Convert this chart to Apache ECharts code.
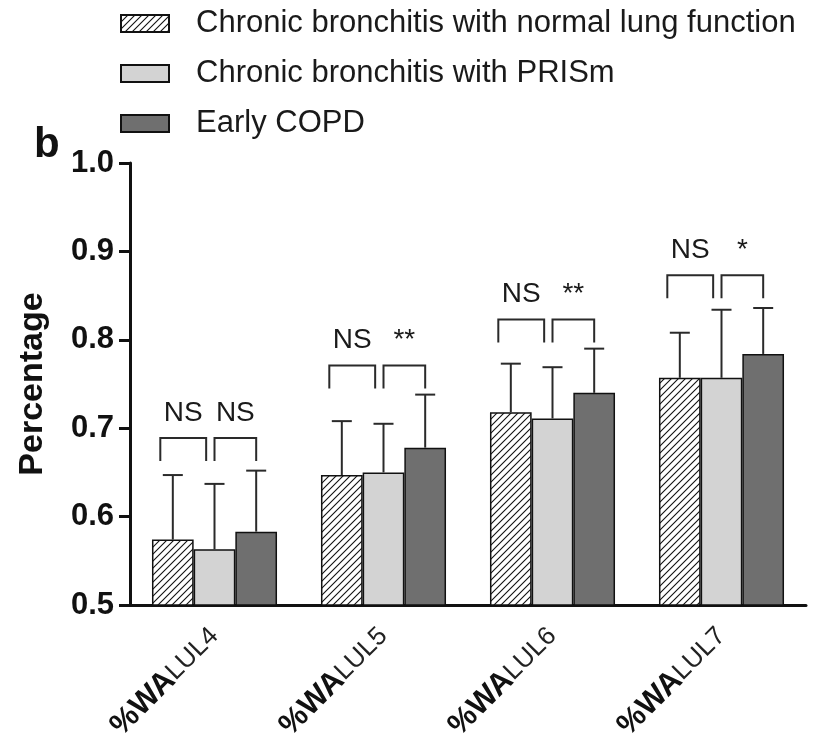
<!DOCTYPE html>
<html>
<head>
<meta charset="utf-8">
<script src="https://cdn.jsdelivr.net/npm/echarts@6/dist/echarts.min.js"></script>
<style>html,body{margin:0;padding:0;background:#fff;}#chart{width:817px;height:742px;}</style>
</head>
<body>
<div id="chart"></div>
<script>
// ---- data ----
const categories = ['LUL4', 'LUL5', 'LUL6', 'LUL7'];
const seriesNames = ['Chronic bronchitis with normal lung function', 'Chronic bronchitis with PRISm', 'Early COPD'];
const meanNormal = [0.574, 0.647, 0.718, 0.757];
const meanPrism  = [0.563, 0.650, 0.711, 0.757];
const meanCopd   = [0.583, 0.678, 0.740, 0.784];
const upperNormal = [0.647, 0.708, 0.773, 0.808];
const upperPrism  = [0.637, 0.705, 0.769, 0.834];
const upperCopd   = [0.652, 0.738, 0.790, 0.836];
const bracketLevel = [0.689, 0.771, 0.823, 0.873];
const sigLeft  = ['NS', 'NS', 'NS', 'NS'];
const sigRight = ['NS', '**', '**', '*'];
const yTicks = [0.5, 0.6, 0.7, 0.8, 0.9, 1.0];

// ---- style ----
const FONT = '"Liberation Sans", Arial, Helvetica, sans-serif';
const CAT_GAP = 0.26;

function hatch() {
  const s = 7;
  const c = document.createElement('canvas');
  c.width = s; c.height = s;
  const g = c.getContext('2d');
  g.fillStyle = '#fff'; g.fillRect(0, 0, s, s);
  g.strokeStyle = '#111'; g.lineWidth = 1.1;
  g.beginPath();
  g.moveTo(-1, s + 1); g.lineTo(s + 1, -1);
  g.moveTo(-2, 2); g.lineTo(2, -2);
  g.moveTo(s - 2, s + 2); g.lineTo(s + 2, s - 2);
  g.stroke();
  return c;
}

const fills = [{ image: hatch(), repeat: 'repeat' }, '#d3d3d3', '#6f6f6f'];
const means = [meanNormal, meanPrism, meanCopd];
const uppers = [upperNormal, upperPrism, upperCopd];

const chart = echarts.init(document.getElementById('chart'), null, { renderer: 'canvas' });

function barCenter(api, idx, k) {
  const p = api.coord([idx, 0.5]);
  const band = api.size([1, 0])[0];
  const gw = band * (1 - CAT_GAP);
  const w = gw / 3;
  return { cx: p[0] - gw / 2 + w * (k + 0.5), w: w };
}

const barSeries = seriesNames.map((name, k) => ({
  name: name,
  type: 'bar',
  data: means[k],
  barGap: '0%',
  barCategoryGap: (CAT_GAP * 100) + '%',
  itemStyle: { color: fills[k], borderColor: '#111', borderWidth: 1.5 },
  emphasis: { disabled: true },
  z: 2
}));

const errSeries = seriesNames.map((name, k) => ({
  type: 'custom',
  name: 'err' + k,
  data: categories.map((c, i) => [i, means[k][i], uppers[k][i]]),
  encode: { x: 0, y: [1, 2] },
  z: 3,
  silent: true,
  renderItem: function (params, api) {
    const idx = api.value(0);
    const b = barCenter(api, idx, k);
    const y0 = api.coord([idx, api.value(1)])[1];
    const y1 = api.coord([idx, api.value(2)])[1];
    const hw = b.w * 0.24;
    const st = { stroke: '#2a2a2a', lineWidth: 2 };
    return {
      type: 'group',
      children: [
        { type: 'line', shape: { x1: b.cx, y1: y0, x2: b.cx, y2: y1 }, style: st },
        { type: 'line', shape: { x1: b.cx - hw, y1: y1, x2: b.cx + hw, y2: y1 }, style: st }
      ]
    };
  }
}));

const bracketSeries = {
  type: 'custom',
  name: 'brackets',
  data: categories.map((c, i) => [i, bracketLevel[i]]),
  encode: { x: 0, y: 1 },
  z: 4,
  silent: true,
  renderItem: function (params, api) {
    const idx = api.value(0);
    const yTop = api.coord([idx, api.value(1)])[1];
    const b0 = barCenter(api, idx, 0), b1 = barCenter(api, idx, 1), b2 = barCenter(api, idx, 2);
    const w = b0.w;
    const leg = 23;
    const st = { stroke: '#2a2a2a', lineWidth: 2, fill: null };
    const l1 = b0.cx - 0.3 * w, l2 = b1.cx - 0.2 * w;
    const r1 = b1.cx, r2 = b2.cx;
    const tf = '28px ' + FONT;
    return {
      type: 'group',
      children: [
        { type: 'polyline', shape: { points: [[l1, yTop + leg], [l1, yTop], [l2, yTop], [l2, yTop + leg]] }, style: st },
        { type: 'polyline', shape: { points: [[r1, yTop + leg], [r1, yTop], [r2, yTop], [r2, yTop + leg]] }, style: st },
        { type: 'text', style: { text: sigLeft[idx], x: (l1 + l2) / 2, y: yTop - 25, align: 'center', verticalAlign: 'middle', font: tf, fill: '#1a1a1a' } },
        { type: 'text', style: { text: sigRight[idx], x: (r1 + r2) / 2, y: yTop - 25, align: 'center', verticalAlign: 'middle', font: tf, fill: '#1a1a1a' } }
      ]
    };
  }
};

const option = {
  animation: false,
  backgroundColor: '#fff',
  grid: { left: 130, right: 11, top: 163, bottom: 137, containLabel: false, outerBoundsMode: 'none' },
  legend: {
    data: seriesNames,
    orient: 'vertical',
    left: 120,
    top: 8,
    padding: 0,
    itemWidth: 48,
    itemHeight: 17,
    itemGap: 19,
    icon: 'rect',
    selectedMode: false,
    textStyle: { fontFamily: FONT, fontSize: 31, color: '#1a1a1a', padding: [0, 0, 0, 22] }
  },
  graphic: [
    { type: 'text', left: 34, top: 124, style: { text: 'b', font: 'bold 42px ' + FONT, fill: '#111' } }
  ],
  xAxis: {
    type: 'category',
    data: categories,
    axisLine: { lineStyle: { color: '#111', width: 3 } },
    axisTick: { alignWithLabel: true, length: 12, lineStyle: { color: '#111', width: 3 } },
    axisLabel: {
      rotate: 45,
      margin: 27,
      interval: 0,
      formatter: function (v) { return '{b|%WA}{n|' + v + '}'; },
      rich: {
        b: { fontFamily: FONT, fontWeight: 'bold', fontSize: 31, color: '#111' },
        n: { fontFamily: FONT, fontSize: 26, color: '#222' }
      }
    }
  },
  yAxis: {
    type: 'value',
    min: yTicks[0],
    max: yTicks[yTicks.length - 1],
    interval: 0.1,
    name: 'Percentage',
    nameLocation: 'middle',
    nameGap: 80,
    nameRotate: 90,
    nameTextStyle: { fontFamily: FONT, fontWeight: 'bold', fontSize: 34, color: '#111' },
    splitLine: { show: false },
    axisLine: { show: true, lineStyle: { color: '#111', width: 3 } },
    axisTick: { show: true, length: 11, lineStyle: { color: '#111', width: 3 } },
    axisLabel: {
      margin: 16,
      formatter: function (v) { return v.toFixed(1); },
      fontFamily: FONT, fontWeight: 'bold', fontSize: 31, color: '#111'
    }
  },
  series: barSeries.concat(errSeries, [bracketSeries])
};
chart.setOption(option);
</script>
</body>
</html>
